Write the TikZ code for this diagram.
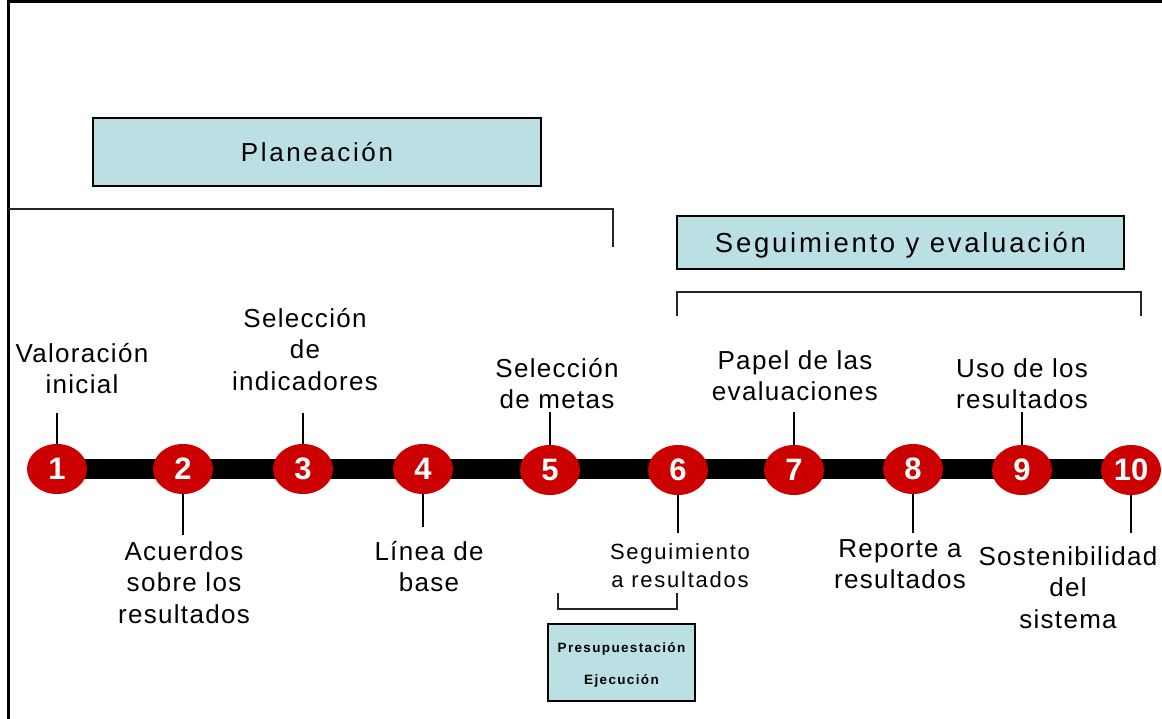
\documentclass[tikz,border=0pt]{standalone}
\usepackage{fontspec}
\setmainfont{Liberation Sans}
\newfontfamily\lblfont[LetterSpace=5]{Liberation Sans}
\newfontfamily\smlblfont[LetterSpace=8]{Liberation Sans}
\newfontfamily\boxfont[LetterSpace=10]{Liberation Sans}
\newfontfamily\tinyboxfont[LetterSpace=10]{Liberation Sans}
\usetikzlibrary{shapes.geometric,backgrounds}
\definecolor{boxcyan}{HTML}{BBE0E3}
\definecolor{numred}{HTML}{CC0000}
\begin{document}
\begin{tikzpicture}[x=1pt,y=-1pt,
  numnode/.style={ellipse, fill=numred, minimum width=60pt, minimum height=50pt,
    inner sep=0pt, text=white, font=\fontsize{31}{31}\selectfont\bfseries},
  lbl/.style={anchor=north, align=center, inner sep=0pt,
    font=\lblfont\fontsize{26}{31.5}\selectfont},
  smlbl/.style={anchor=north, align=center, inner sep=0pt,
    font=\smlblfont\fontsize{22}{28.5}\selectfont},
  phase/.style={draw=black, line width=2.5pt, fill=boxcyan, inner sep=0pt,
    text depth=0pt},
  stem/.style={draw=black, line width=2pt},
  brk/.style={draw=black!85, line width=2pt},
  frame/.style={draw=black, line width=3pt},
  bar/.style={draw=black, line width=20pt}
]
\useasboundingbox (0,0) rectangle (1162,719);

% frame
\draw[frame] (8,0) -- (8,719);
\draw[frame] (6.5,1.5) -- (1162,1.5);

% phase boxes
\node[phase, minimum width=448pt, minimum height=68pt, text height=18.5pt,
  font=\boxfont\fontsize{26}{30}\selectfont] (plan) at (317,152) {Planeación};
\node[phase, minimum width=447pt, minimum height=53pt, text height=19.7pt,
  font=\boxfont\fontsize{27.5}{32}\selectfont] (segeval) at (900.5,242.5) {Seguimiento y evaluación};
\node[phase, minimum width=147pt, minimum height=77pt, align=center, text depth=,
  font=\tinyboxfont\bfseries\fontsize{13.5}{32}\selectfont] (presup) at (621.5,662.5)
  {\strut Presupuestación\\\strut Ejecución};

% brackets
\coordinate (pb1) at (8,209);
\coordinate (pb2) at (613,209);
\coordinate (pb3) at (613,247);
\draw[brk] (pb1) -- (pb2) -- (pb3);
\coordinate (sb1) at (677,316);
\coordinate (sb2) at (677,292);
\coordinate (sb3) at (1141,292);
\coordinate (sb4) at (1141,316);
\draw[brk] (sb1) -- (sb2) -- (sb3) -- (sb4);
\coordinate (kb1) at (558,593);
\coordinate (kb2) at (558,609);
\coordinate (kb3) at (677,609);
\coordinate (kb4) at (677,593);
\draw[brk] (kb1) -- (kb2) -- (kb3) -- (kb4);

% number circles
\node[numnode] (c1) at (57,469) {1};
\node[numnode] (c2) at (183,469) {2};
\node[numnode] (c3) at (303,469) {3};
\node[numnode] (c4) at (423,469) {4};
\node[numnode] (c5) at (550,470) {5};
\node[numnode] (c6) at (678,470) {6};
\node[numnode] (c7) at (794,470) {7};
\node[numnode] (c8) at (913,469) {8};
\node[numnode] (c9) at (1022,470) {9};
\node[numnode] (c10) at (1131,470) {10};

\begin{scope}[on background layer]
\draw[bar] (c1.center) -- (c1.center -| c10.center);
% stems
\coordinate (t1) at (57,413);
\coordinate (t3) at (303,413);
\coordinate (t5) at (550,412);
\coordinate (t7) at (794,412);
\coordinate (t9) at (1022,412);
\coordinate (b2) at (183,535);
\coordinate (b4) at (423,527);
\coordinate (b6) at (678,533);
\coordinate (b8) at (913,533);
\coordinate (b10) at (1131,533);
\draw[stem] (c1.center) -- (t1);
\draw[stem] (c3.center) -- (t3);
\draw[stem] (c5.center) -- (t5);
\draw[stem] (c7.center) -- (t7);
\draw[stem] (c9.center) -- (t9);
\draw[stem] (c2.center) -- (b2);
\draw[stem] (c4.center) -- (b4);
\draw[stem] (c6.center) -- (b6);
\draw[stem] (c8.center) -- (b8);
\draw[stem] (c10.center) -- (b10);
\end{scope}

% labels
\node[lbl] (l1) at (82,340) {\strut Valoración\\\strut inicial};
\node[lbl] (l3) at (305,305) {\strut Selección\\\strut de\\\strut indicadores};
\node[lbl] (l5) at (557,355) {\strut Selección\\\strut de metas};
\node[lbl] (l7) at (795,347) {\strut Papel de las\\\strut evaluaciones};
\node[lbl] (l9) at (1022,355) {\strut Uso de los\\\strut resultados};
\node[lbl] (l2) at (184,538) {\strut Acuerdos\\\strut sobre los\\\strut resultados};
\node[lbl] (l4) at (429,538) {\strut Línea de\\\strut base};
\node[smlbl] (l6) at (680,539) {\strut Seguimiento\\\strut a resultados};
\node[lbl] (l8) at (900,535) {\strut Reporte a\\\strut resultados};
\node[lbl] (l10) at (1068,543) {\strut Sostenibilidad\\\strut del\\\strut sistema};
\end{tikzpicture}
\end{document}
